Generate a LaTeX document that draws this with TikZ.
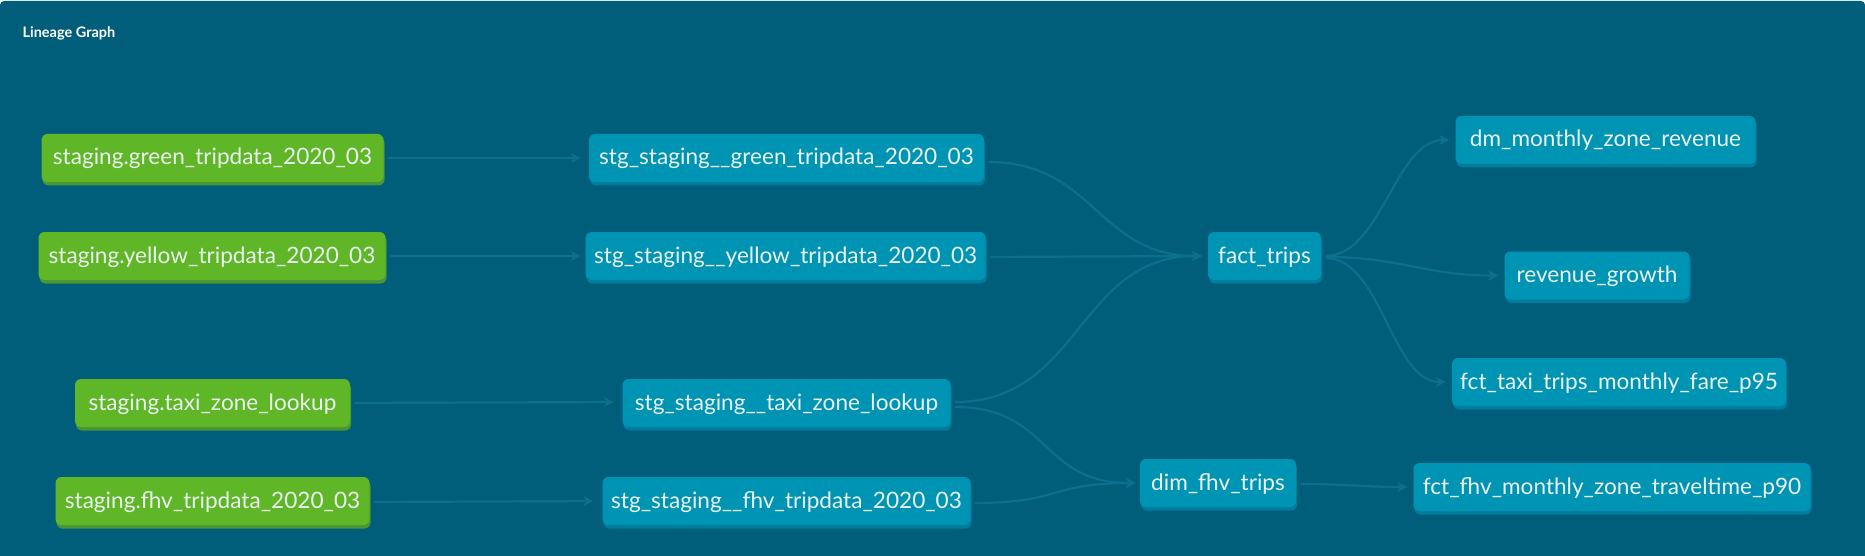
\documentclass[tikz,border=0pt]{standalone}
\usepackage{fontspec}
\setmainfont{Lato}
\usetikzlibrary{arrows.meta,shadows}
\definecolor{bgc}{HTML}{005E7B}
\definecolor{greenc}{HTML}{5FB626}
\definecolor{greenshadow}{HTML}{4A9634}
\definecolor{bluec}{HTML}{0094B4}
\definecolor{blueshadow}{HTML}{007C9C}
\definecolor{edgec}{HTML}{0C6F8D}
\definecolor{nodetext}{HTML}{EAF2F0}
\begin{document}
\begin{tikzpicture}[x=1pt,y=-1pt,
  box/.style={rounded corners=6pt, minimum height=48pt, inner sep=0pt,
    text height=19pt, text depth=5pt, font=\fontsize{22.6}{26}\selectfont, text=nodetext},
  src/.style={box, fill=greenc, general shadow={fill=greenshadow, shadow xshift=1pt, shadow yshift=-3.5pt}},
  mdl/.style={box, fill=bluec, general shadow={fill=blueshadow, shadow xshift=1pt, shadow yshift=-3.5pt}},
  edge/.style={draw=edgec, line width=2.2pt, -{Stealth[length=10pt,width=10pt,inset=3pt]},
    shorten <=4.5pt, shorten >=6pt}
]
\useasboundingbox (0,0) rectangle (1865,556);
\fill[white] (0,0) rectangle (1865,556);
\fill[bgc, rounded corners=4pt] (0,1) rectangle (1865,570);
\node[anchor=west, text=white, font=\bfseries\fontsize{14.5}{16}\selectfont] (title) at (19,33) {Lineage Graph};

% sources
\node[src, minimum width=342pt] (G1) at (212.5,158) {staging.green\_tripdata\_2020\_03};
\node[src, minimum width=347pt] (G2) at (212,256) {staging.yellow\_tripdata\_2020\_03};
\node[src, minimum width=275pt] (G3) at (212.5,403) {staging.taxi\_zone\_lookup};
\node[src, minimum width=314pt] (G4) at (212.5,501) {staging.fhv\_tripdata\_2020\_03};

% staging models
\node[mdl, minimum width=395pt] (S1) at (786.5,158) {stg\_staging\_\_green\_tripdata\_2020\_03};
\node[mdl, minimum width=400pt] (S2) at (785.7,256) {stg\_staging\_\_yellow\_tripdata\_2020\_03};
\node[mdl, minimum width=328pt] (S3) at (786.5,403) {stg\_staging\_\_taxi\_zone\_lookup};
\node[mdl, minimum width=368pt] (S4) at (786.5,501) {stg\_staging\_\_fhv\_tripdata\_2020\_03};

% core
\node[mdl, minimum width=113pt] (F) at (1264.5,256) {fact\_trips};
\node[mdl, minimum width=156pt] (D) at (1218,483) {dim\_fhv\_trips};

% marts
\node[mdl, minimum width=300pt] (M) at (1605.5,140) {dm\_monthly\_zone\_revenue};
\node[mdl, minimum width=185pt] (R) at (1597,275.5) {revenue\_growth};
\node[mdl, minimum width=334pt] (T) at (1619,382) {fct\_taxi\_trips\_monthly\_fare\_p95};
\node[mdl, minimum width=397pt] (H) at (1612,487) {fct\_fhv\_monthly\_zone\_traveltime\_p90};

% edges
\draw[edge, shorten >=8pt] (G1.east) -- (S1.west);
\draw[edge, shorten >=5pt] (G2.east) -- (S2.west);
\draw[edge, shorten >=8.5pt] (G3.east) -- ([yshift=1pt]S3.west);
\draw[edge, shorten >=9pt] ([yshift=-1pt]G4.east) -- (S4.west);

\draw[edge] ([yshift=-4pt]S1.east) .. controls +(110,0) and +(-110,0) .. (F.west);
\draw[edge] ([yshift=-1pt]S2.east) -- (F.west);
\draw[edge] ([yshift=1pt]S3.east) .. controls +(130,0) and +(-130,0) .. (F.west);
\draw[edge, shorten >=4pt] ([yshift=-4pt]S3.east) .. controls +(100,0) and +(-100,0) .. (D.west);
\draw[edge, shorten >=4pt] ([yshift=-2pt]S4.east) .. controls +(90,0) and +(-90,0) .. (D.west);

\draw[edge] (F.east) .. controls +(60,0) and +(-60,0) .. (M.west);
\draw[edge] ([yshift=-1pt]F.east) .. controls +(80,0) and +(-80,0) .. (R.west);
\draw[edge] ([yshift=-2pt]F.east) .. controls +(60,0) and +(-60,0) .. (T.west);
\draw[edge] ([yshift=-1pt]D.east) .. controls +(50,0) and +(-50,0) .. (H.west);
\end{tikzpicture}
\end{document}
